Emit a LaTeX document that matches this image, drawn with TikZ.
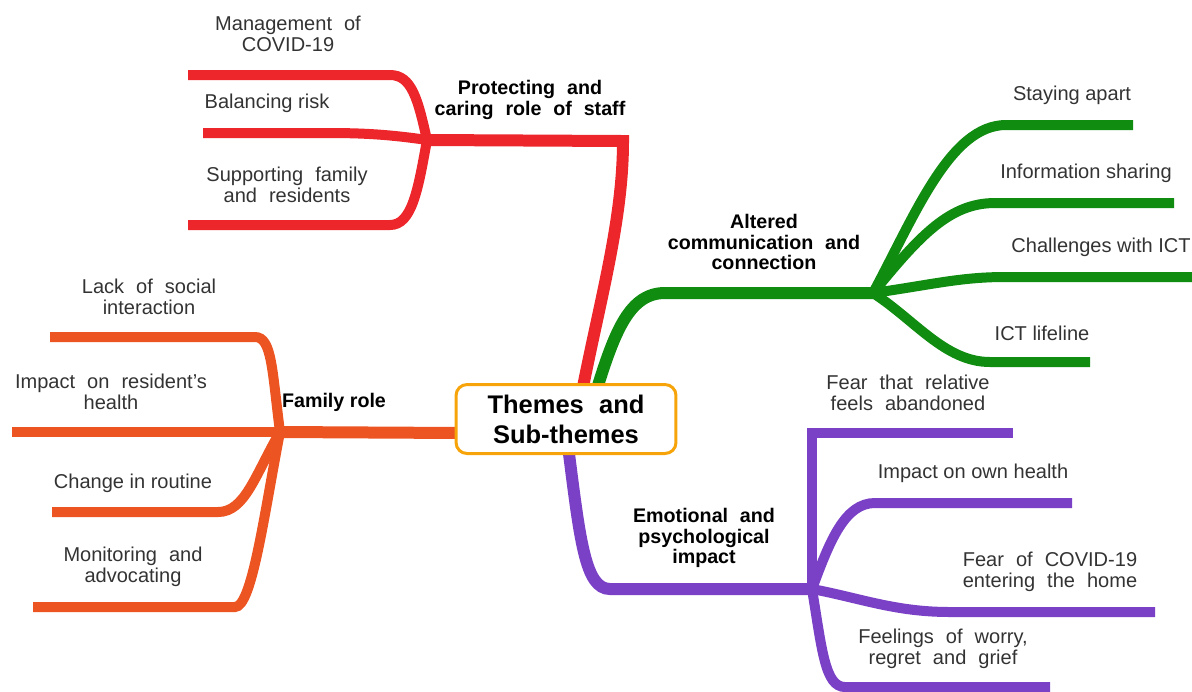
\documentclass[tikz,border=0pt]{standalone}
\usepackage{fontspec}
\setmainfont{Liberation Sans}
\usetikzlibrary{positioning}

\definecolor{staffred}{RGB}{236,38,43}
\definecolor{commgreen}{RGB}{16,140,16}
\definecolor{emopurple}{RGB}{122,64,198}
\definecolor{famorange}{RGB}{236,84,34}
\definecolor{hubline}{RGB}{246,164,10}
\definecolor{subtext}{RGB}{51,51,51}

\begin{document}
\begin{tikzpicture}[
    x=0.02cm, y=-0.02cm,
    hub/.style   = {draw=hubline, line width=1.7pt, rounded corners=0.22cm, fill=white,
                    minimum width=4.4cm, minimum height=1.38cm, align=center,
                    font=\fontsize{14.5}{17}\selectfont\bfseries},
    theme/.style = {align=center, inner sep=0pt, font=\fontsize{11.2}{11.6}\selectfont\bfseries},
    sub/.style   = {align=center, inner sep=0pt, text=subtext, font=\fontsize{11.4}{11.8}\selectfont},
    wide/.style  = {execute at begin node={\spaceskip=0.6em plus 0.1em\relax}},
    trunk/.style = {line width=0.24cm},
    twig/.style  = {line width=0.2cm}
  ]

  \useasboundingbox (0,0) rectangle (1192,691);

  % --- where the themes leave the hub, and their forks ---
  \coordinate (staffIn) at (582,392);
  \coordinate (commIn)  at (596,392);
  \coordinate (emoIn)   at (568,446);
  \coordinate (famIn)   at (462,433);
  \coordinate (staff)   at (427,140);
  \coordinate (comm)    at (873,293);
  \coordinate (emo)     at (812,589);
  \coordinate (fam)     at (280,432);

  % --- free ends of the sub-themes ---
  \coordinate (mgmtEnd)  at (188,75);
  \coordinate (riskEnd)  at (203,133);
  \coordinate (suppEnd)  at (188,225);
  \coordinate (apartEnd) at (1133,125);
  \coordinate (infoEnd)  at (1174,203);
  \coordinate (ictEnd)   at (1192,277);
  \coordinate (lifeEnd)  at (1090,362);
  \coordinate (abanEnd)  at (1013,433);
  \coordinate (ownEnd)   at (1072,503);
  \coordinate (fearEnd)  at (1155,612);
  \coordinate (worryEnd) at (1050,687);
  \coordinate (lackEnd)  at (50,337);
  \coordinate (resEnd)   at (12,432);
  \coordinate (routEnd)  at (52,512);
  \coordinate (monEnd)   at (33,607);

  % --- protecting and caring role of staff (red) ---
  \draw[trunk, staffred] (staffIn) .. controls (600,300) and (623,220) .. (623,141) -- (staff);
  \draw[twig, staffred] (staff) .. controls (418,100) and (412,75) .. (390,75) -- (mgmtEnd);
  \draw[twig, staffred] (staff) .. controls (380,133) and (350,133) .. (320,133) -- (riskEnd);
  \draw[twig, staffred] (staff) .. controls (418,190) and (412,225) .. (390,225) -- (suppEnd);

  % --- altered communication and connection (green) ---
  \draw[trunk, commgreen] (commIn) .. controls (615,330) and (630,293) .. (665,293) -- (comm);
  \draw[twig, commgreen] (comm) .. controls (915,215) and (950,125) .. (1006,125) -- (apartEnd);
  \draw[twig, commgreen] (comm) .. controls (920,235) and (950,203) .. (995,203) -- (infoEnd);
  \draw[twig, commgreen] (comm) .. controls (930,285) and (960,277) .. (1005,277) -- (ictEnd);
  \draw[twig, commgreen] (comm) .. controls (915,320) and (945,362) .. (990,362) -- (lifeEnd);

  % --- emotional and psychological impact (purple) ---
  \draw[trunk, emopurple] (emoIn) .. controls (580,540) and (585,589) .. (610,589) -- (emo);
  \draw[twig, emopurple] (emo) -- (812,433) -- (abanEnd);
  \draw[twig, emopurple] (emo) .. controls (830,540) and (845,503) .. (875,503) -- (ownEnd);
  \draw[twig, emopurple] (emo) .. controls (860,598) and (895,612) .. (950,612) -- (fearEnd);
  \draw[twig, emopurple] (emo) .. controls (822,650) and (825,687) .. (845,687) -- (worryEnd);

  % --- family role (orange) ---
  \draw[trunk, famorange] (famIn) -- (fam);
  \draw[twig, famorange] (fam) .. controls (272,370) and (272,337) .. (255,337) -- (lackEnd);
  \draw[twig, famorange] (fam) -- (resEnd);
  \draw[twig, famorange] (fam) .. controls (255,475) and (245,512) .. (218,512) -- (routEnd);
  \draw[twig, famorange] (fam) .. controls (264,515) and (252,607) .. (235,607) -- (monEnd);

  % --- hub ---
  \node[hub, wide] (hub) at (566,419) {Themes and\\Sub-themes};

  % --- theme labels ---
  \node[theme, wide] (tStaff) at (530,100) {Protecting and\\caring role of staff};
  \node[theme, wide] (tComm)  at (764,242) {Altered\\communication and\\connection};
  \node[theme, wide] (tEmo)   at (704,538) {Emotional and\\psychological\\impact};
  \node[theme]       (tFam)   at (334,402) {Family role};

  % --- sub-theme labels ---
  \node[sub, wide] (lMgmt)  at (288,34)  {Management of\\COVID-19};
  \node[sub]       (lRisk)  at (267,103) {Balancing risk};
  \node[sub, wide] (lSupp)  at (287,185) {Supporting family\\and residents};
  \node[sub]       (lApart) at (1072,95)  {Staying apart};
  \node[sub]       (lInfo)  at (1086,173) {Information sharing};
  \node[sub]       (lIct)   at (1101,247) {Challenges with ICT};
  \node[sub]       (lLife)  at (1042,333) {ICT lifeline};
  \node[sub, wide] (lAban)  at (908,393)  {Fear that relative\\feels abandoned};
  \node[sub]       (lOwn)   at (973,473)  {Impact on own health};
  \node[sub, wide] (lFear)  at (1050,572) {Fear of COVID-19\\entering the home};
  \node[sub, wide] (lWorry) at (943,649)  {Feelings of worry,\\regret and grief};
  \node[sub, wide] (lLack)  at (149,297)  {Lack of social\\interaction};
  \node[sub, wide] (lRes)   at (111,392)  {Impact on resident's\\health};
  \node[sub]       (lRout)  at (133,483)  {Change in routine};
  \node[sub, wide] (lMon)   at (133,567)  {Monitoring and\\advocating};

\end{tikzpicture}
\end{document}
